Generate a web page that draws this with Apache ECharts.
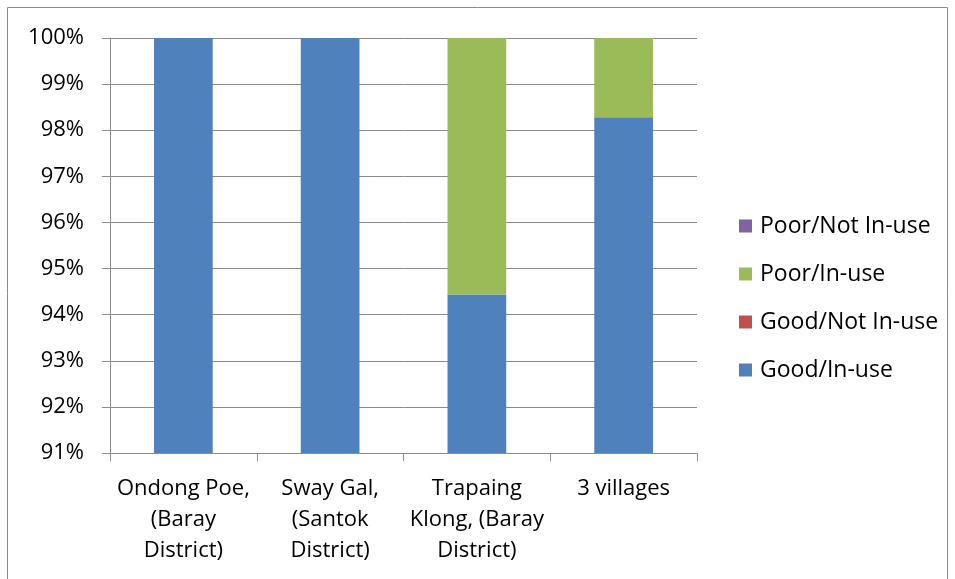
<!DOCTYPE html>
<html>
<head>
<meta charset="utf-8">
<script src="https://cdn.jsdelivr.net/npm/echarts@6/dist/echarts.min.js"></script>
<style>
  html, body { margin: 0; padding: 0; background: #fff; }
  #chart { width: 955px; height: 579px; }
</style>
</head>
<body>
<div id="chart"></div>
<script>
// Village categories (x axis)
const categories = [
  'Ondong Poe,\n(Baray\nDistrict)',
  'Sway Gal,\n(Santok\nDistrict)',
  'Trapaing\nKlong, (Baray\nDistrict)',
  '3 villages'
];

// Share of facilities by condition / use, in percent
const goodInUse = [100, 100, 94.44, 98.28];
const goodNotInUse = [0, 0, 0, 0];
const poorInUse = [0, 0, 5.56, 1.72];
const poorNotInUse = [0, 0, 0, 0];

// Value axis range
const yMin = 91;
const yMax = 100;
const yStep = 1;

const seriesNames = ['Good/In-use', 'Good/Not In-use', 'Poor/In-use', 'Poor/Not In-use'];
const seriesColors = ['#4F81BD', '#C0504D', '#9BBB59', '#8064A2'];
const seriesData = [goodInUse, goodNotInUse, poorInUse, poorNotInUse];

const FONT = 'Open Sans';
const gridColor = '#8c8c8c';

const chart = echarts.init(document.getElementById('chart'), null, { renderer: 'canvas' });

chart.setOption({
  animation: false,
  backgroundColor: '#fff',
  graphic: [{
    type: 'rect',
    shape: { x: 7.5, y: 7.5, width: 940, height: 580 },
    style: { fill: 'none', stroke: '#8c8c8c', lineWidth: 1 },
    silent: true,
    z: -1
  }],
  grid: { left: 110, right: 258, top: 38, bottom: 126, containLabel: false },
  legend: {
    orient: 'vertical',
    left: 734,
    top: 209,
    itemWidth: 13,
    itemHeight: 13,
    itemGap: 24,
    icon: 'rect',
    data: ['Poor/Not In-use', 'Poor/In-use', 'Good/Not In-use', 'Good/In-use'],
    textStyle: { fontFamily: FONT, fontSize: 23, lineHeight: 24, color: '#000', padding: [0, 0, 0, 3] }
  },
  xAxis: {
    type: 'category',
    data: categories,
    axisLine: { lineStyle: { color: gridColor, width: 1 } },
    axisTick: { show: true, length: 8, lineStyle: { color: gridColor } },
    axisLabel: {
      interval: 0,
      fontFamily: FONT,
      fontSize: 22,
      color: '#000',
      lineHeight: 31,
      margin: 20,
      align: 'center',
      verticalAlign: 'top'
    }
  },
  yAxis: {
    type: 'value',
    min: yMin,
    max: yMax,
    interval: yStep,
    axisLine: { show: true, lineStyle: { color: gridColor, width: 1 } },
    axisTick: { show: true, length: 8, lineStyle: { color: gridColor } },
    splitLine: { show: true, lineStyle: { color: gridColor, width: 1 } },
    axisLabel: {
      fontFamily: FONT,
      fontSize: 22,
      color: '#000',
      margin: 26,
      formatter: v => v + '%'
    }
  },
  series: seriesNames.map((name, i) => ({
    name,
    type: 'bar',
    stack: 'total',
    barWidth: '40%',
    clip: true,
    itemStyle: { color: seriesColors[i] },
    data: seriesData[i]
  }))
});
</script>
</body>
</html>
